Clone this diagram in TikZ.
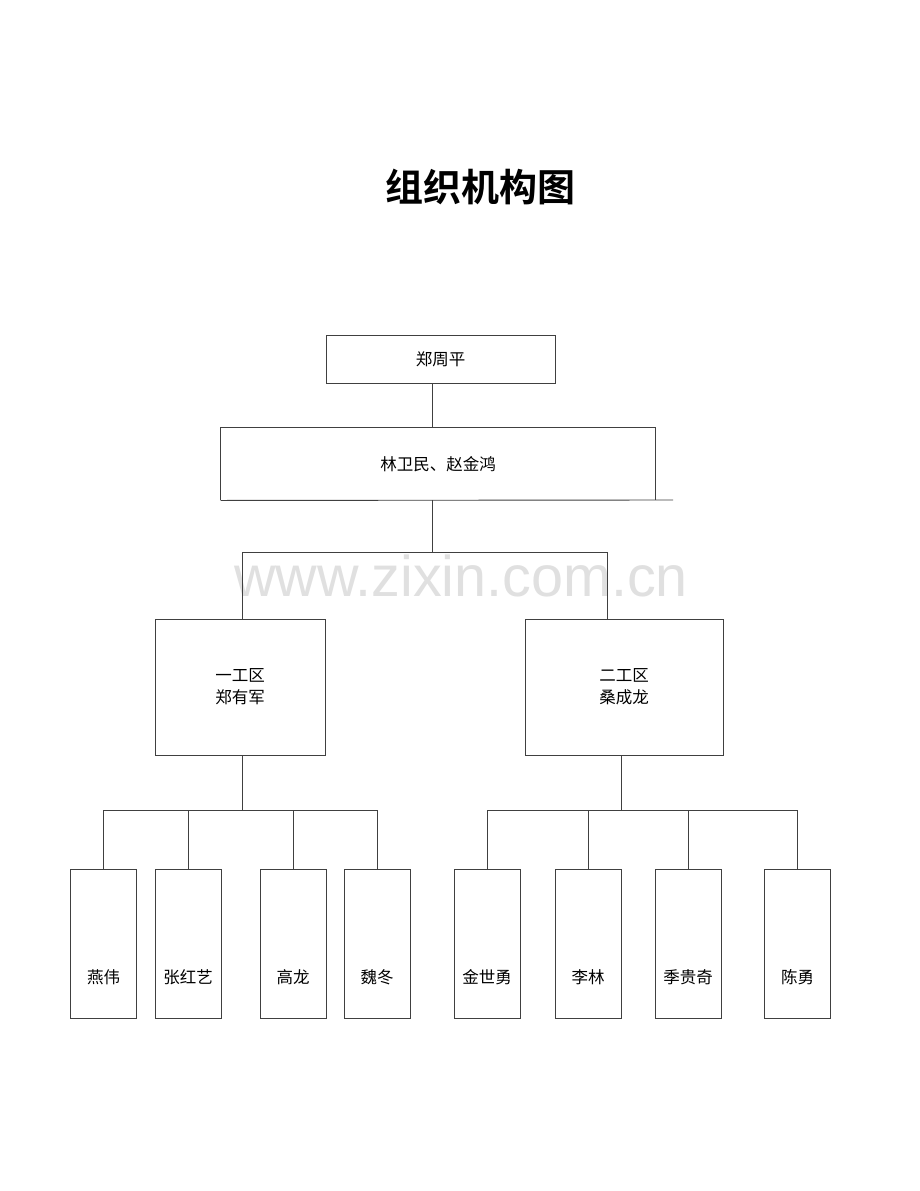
\documentclass[tikz,border=0pt]{standalone}
\usepackage{fontspec}
\newfontfamily\cjk{Noto Sans CJK SC}
\newfontfamily\cjkb{Noto Sans CJK SC Bold}
\setsansfont{Liberation Sans}
\usetikzlibrary{calc}
\begin{document}
\begin{tikzpicture}[x=1pt,y=-1pt,
  ln/.style={draw=black!75,line width=0.9pt},
  box/.style={ln,inner sep=0pt,font=\cjk\fontsize{16.5}{22}\selectfont,align=center},
  leaf/.style={box,minimum width=66pt,minimum height=149pt},
  lbl/.style={font=\cjk\fontsize{16.5}{22}\selectfont,inner sep=0pt}]
\useasboundingbox[fill=white] (0,0) rectangle (920,1191);
\node[font=\sffamily\fontsize{57.5}{60}\selectfont,text=black!12] (wm) at (461,576) {www.zixin.com.cn};
\node[font=\cjkb\fontsize{38}{42}\selectfont] (title) at (480,187) {组织机构图};
\node[box,minimum width=229pt,minimum height=48pt] (n1) at (440.5,359) {郑周平};
\node[box,draw=none,minimum width=434pt,minimum height=72pt] (n2) at (438,464) {林卫民、赵金鸿};
\coordinate (n2ext) at (673,500);
\draw[ln] (n2.south west) -- (n2.north west) -- (n2.north east) -- (n2.south east);
\draw[ln] (n2.south west) -- (n2ext);
\coordinate (j0) at (432,383);
\draw[ln] (n1.south -| j0) -- (n2.north -| j0);
\coordinate (bl) at (242,552);
\coordinate (br) at (607,552);
\node[box,minimum width=170pt,minimum height=136pt] (a) at (240,687) {一工区\\郑有军};
\node[box,minimum width=198pt,minimum height=136pt] (b) at (624,687) {二工区\\桑成龙};
\draw[ln] (n2.south -| j0) -- (bl -| j0);
\draw[ln] (bl) -- (br);
\draw[ln] (bl) -- (bl |- a.north);
\draw[ln] (br) -- (br |- b.north);
% left leaves
\node[leaf] (c1) at (103.5,943.5) {};
\node[leaf] (c2) at (188,943.5) {};
\node[leaf] (c3) at (293,943.5) {};
\node[leaf] (c4) at (377,943.5) {};
\node[lbl] at ($(c1.south)+(0,-41)$) {燕伟};
\node[lbl] at ($(c2.south)+(0,-41)$) {张红艺};
\node[lbl] at ($(c3.south)+(0,-41)$) {高龙};
\node[lbl] at ($(c4.south)+(0,-41)$) {魏冬};
\coordinate (j2) at (242,810);
\draw[ln] (a.south -| j2) -- (j2);
\draw[ln] (c1.north) |- (c4.north |- j2) -- (c4.north);
\draw[ln] (c2.north) -- (c2.north |- j2);
\draw[ln] (c3.north) -- (c3.north |- j2);
% right leaves
\node[leaf] (d1) at (487,943.5) {};
\node[leaf] (d2) at (588,943.5) {};
\node[leaf] (d3) at (688,943.5) {};
\node[leaf] (d4) at (797.5,943.5) {};
\node[lbl] at ($(d1.south)+(0,-41)$) {金世勇};
\node[lbl] at ($(d2.south)+(0,-41)$) {李林};
\node[lbl] at ($(d3.south)+(0,-41)$) {季贵奇};
\node[lbl] at ($(d4.south)+(0,-41)$) {陈勇};
\coordinate (j3) at (621,810);
\draw[ln] (b.south -| j3) -- (j3);
\draw[ln] (d1.north) |- (d4.north |- j3) -- (d4.north);
\draw[ln] (d2.north) -- (d2.north |- j3);
\draw[ln] (d3.north) -- (d3.north |- j3);
\end{tikzpicture}
\end{document}
